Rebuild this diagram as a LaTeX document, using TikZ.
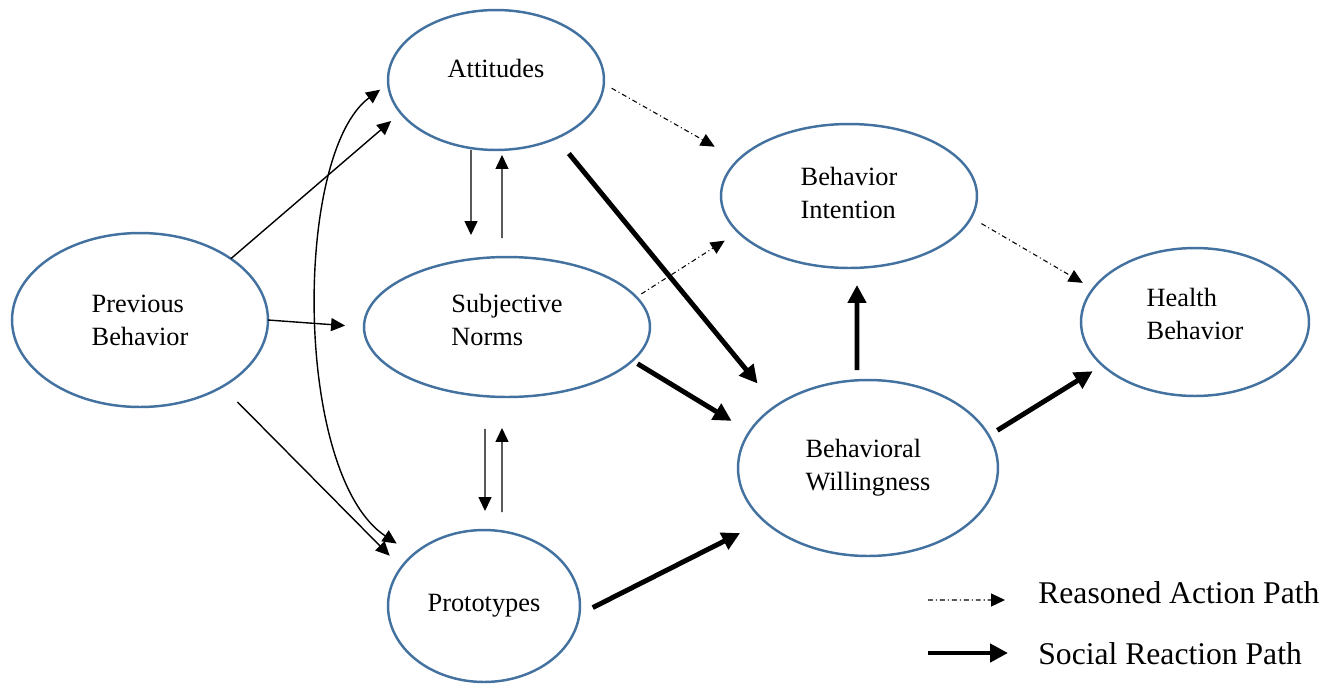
\documentclass[tikz,border=0pt]{standalone}
\usepackage{fontspec}
\setmainfont{Liberation Serif}
\usetikzlibrary{arrows.meta,shapes.geometric}
\definecolor{Oval}{RGB}{68,114,160}
\tikzset{
  ovalbox/.style={ellipse,draw=Oval,line width=1.4pt,inner sep=0pt,outer sep=0pt,align=left,font=\fontsize{15}{18.8}\selectfont},
  flow/.style={-{Triangle[length=0.28cm,width=0.26cm]},line width=0.8pt},
  reasoned/.style={-{Triangle[length=0.28cm,width=0.26cm]},line width=0.6pt,dash pattern=on 2.8pt off 1.7pt on 0.6pt off 1.7pt},
  social/.style={-{Triangle[length=0.36cm,width=0.36cm]},line width=2.8pt},
  legendtext/.style={anchor=west,inner sep=0pt,font=\fontsize{18}{21}\selectfont}
}
\begin{document}
\begin{tikzpicture}[x=0.02cm,y=-0.02cm]
\useasboundingbox (0,0) rectangle (1329,687);
% ellipses
\node[ovalbox,minimum width=5.12cm,minimum height=3.48cm] (prev) at (140,320) {Previous\\Behavior};
\node[ovalbox,minimum width=4.32cm,minimum height=2.80cm,text depth=13.7pt] (att) at (496,80) {Attitudes};
\node[ovalbox,minimum width=5.72cm,minimum height=2.80cm,text depth=8pt] (subj) at (507,327) {Subjective\\Norms};
\node[ovalbox,minimum width=3.84cm,minimum height=3.04cm] (proto) at (484,606) {Prototypes};
\node[ovalbox,minimum width=5.12cm,minimum height=2.88cm,text depth=3.4pt] (bi) at (849,196) {Behavior\\Intention};
\node[ovalbox,minimum width=5.20cm,minimum height=3.52cm] (bw) at (868,468) {Behavioral\\Willingness};
\node[ovalbox,minimum width=4.56cm,minimum height=2.96cm,text depth=9.6pt] (hb) at (1195,322) {Health\\Behavior};
% previous behavior paths
\draw[flow,shorten >=0.25cm] (prev.34) -- (att.199);
\draw[flow,shorten >=0.38cm] (prev.0) -- (subj.180);
\draw[flow,shorten <=0.43cm,shorten >=0.33cm] (prev.-39) -- (proto.155);
\draw[flow,{Triangle[length=0.28cm,width=0.26cm]}-{Triangle[length=0.28cm,width=0.26cm]},shorten <=0.4cm,shorten >=0.2cm]
  (proto.144) .. controls +(-120,-80) and +(-95,70) .. (att.182);
% attitudes / norms / prototypes
\draw[flow,shorten >=0.44cm] ([xshift=-0.5cm]att.south) -- ([xshift=-0.72cm]subj.north);
\draw[flow,shorten <=0.38cm,shorten >=0.1cm] ([xshift=-0.1cm]subj.north) -- ([xshift=0.12cm]att.south);
\draw[flow,shorten <=0.64cm,shorten >=0.38cm] ([xshift=-0.44cm]subj.south) -- ([xshift=0.02cm]proto.north);
\draw[flow,shorten <=0.36cm,shorten >=0.62cm] ([xshift=0.36cm]proto.north) -- ([xshift=-0.1cm]subj.south);
% reasoned action path
\draw[reasoned,shorten <=0.18cm,shorten >=0.54cm] (att.-2) -- (bi.162);
\draw[reasoned,shorten <=0.12cm,shorten >=0.32cm] (subj.13) -- (bi.198);
\draw[reasoned,shorten <=0.24cm,shorten >=0.24cm] (bi.-10) -- (hb.162);
% social reaction path
\draw[social,shorten <=0.4cm,shorten >=0.58cm] (att.-44) -- (bw.146);
\draw[social,shorten <=0.12cm,shorten >=0.42cm] (subj.-15) -- (bw.163);
\draw[social,shorten <=0.3cm,shorten >=0.54cm] (proto.-5) -- (bw.207);
\draw[social,shorten <=0.2cm,shorten >=0.34cm] ([xshift=-0.22cm]bw.north) -- ([xshift=0.16cm]bi.south);
\draw[social,shorten <=0.2cm,shorten >=0.23cm] (bw.15) -- (hb.205);
% legend
\node[legendtext] (lra) at (1038,593) {Reasoned Action Path};
\node[legendtext] (lsr) at (1038,654) {Social Reaction Path};
\coordinate (ra0) at (928,600);
\coordinate (sr0) at (928,653);
\draw[reasoned] (ra0) -- ([xshift=-0.66cm,yshift=-0.14cm]lra.west);
\draw[social] (sr0) -- ([xshift=-0.6cm,yshift=0.02cm]lsr.west);
\end{tikzpicture}
\end{document}
